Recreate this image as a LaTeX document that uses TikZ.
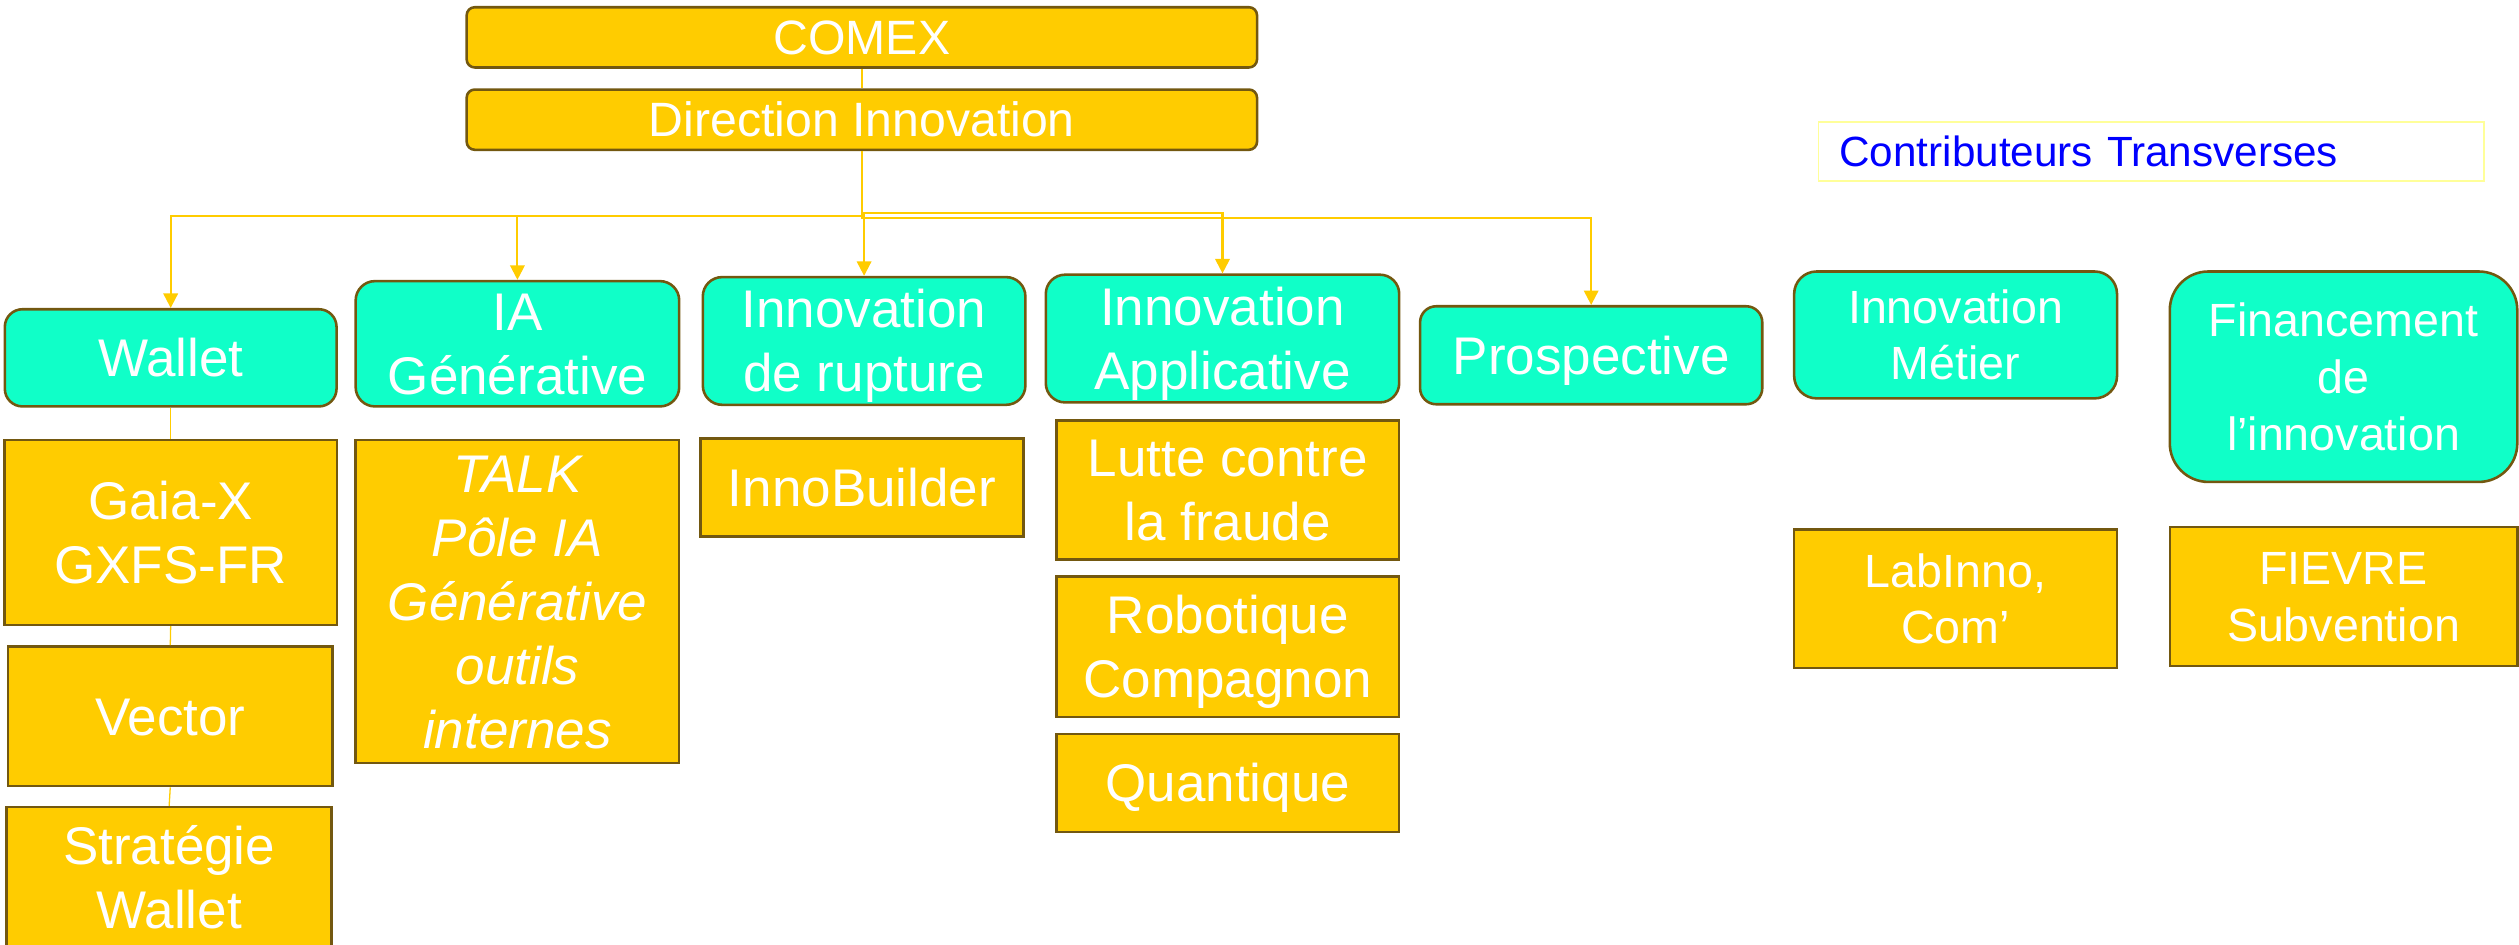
\documentclass[tikz,border=0pt]{standalone}
\usepackage{fontspec}
\setmainfont{Liberation Sans}
\usetikzlibrary{arrows.meta}
\definecolor{gold}{RGB}{255,204,0}
\definecolor{turq}{RGB}{16,255,200}
\definecolor{brd}{RGB}{115,88,16}
\definecolor{pale}{RGB}{255,255,153}
\definecolor{tblue}{RGB}{0,0,255}
\newcommand\Lr[1]{\raisebox{0pt}[0.716em][0pt]{#1}}
\newcommand\fsTop{\fontsize{30}{36}\selectfont}
\newcommand\fsMid{\fontsize{33}{39.8}\selectfont}
\newcommand\fsSide{\fontsize{29}{35.3}\selectfont}
\newcommand\fsNote{\fontsize{26.3}{31.5}\selectfont}
\tikzset{
  base/.style={draw=brd, line width=1.6pt, text=white, align=center, inner sep=0pt},
  wh/.style 2 args={minimum width=#1pt, minimum height=#2pt},
  topbox/.style={base, fill=gold, rounded corners=5pt, font=\fsTop},
  cat/.style={base, fill=turq, rounded corners=11pt, font=\fsMid},
  item/.style={base, fill=gold, font=\fsMid},
  conn/.style={draw=gold, line width=1.3pt, -{Triangle[length=9pt,width=9pt]}},
  link/.style={draw=gold, line width=0.8pt},
}
\begin{document}
\begin{tikzpicture}[x=1pt,y=-1pt]
\useasboundingbox (0,0) rectangle (1568.08,588.26);

% top
\node[topbox, wh={492}{37.5}] (comex) at (536.5,23.25) {\Lr{COMEX}};
\node[topbox, wh={492}{37.5}] (dir) at (536.5,74.5) {\Lr{Direction Innovation}};

% categories
\node[cat, wh={206.5}{60.5}] (wallet) at (106.25,222.75) {\Lr{Wallet}};
\node[cat, wh={201.4}{78}, rounded corners=12pt] (ia) at (322.1,214) {\Lr{IA}\\\Lr{Générative}};
\node[cat, wh={200.8}{79.5}, rounded corners=12pt] (rupt) at (537.9,212.25) {\Lr{Innovation}\\\Lr{de rupture}};
\node[cat, wh={220}{79.5}, rounded corners=12pt] (appl) at (761,210.75) {\Lr{Innovation}\\\Lr{Applicative}};
\node[cat, wh={213}{61}, rounded corners=10pt] (prosp) at (990.5,221.15) {\Lr{Prospective}};
\node[cat, wh={201}{79}, rounded corners=14pt, font=\fsSide] (metier) at (1217.35,208.5) {\Lr{Innovation}\\\Lr{Métier}};
\node[cat, wh={216.3}{131}, rounded corners=24pt, font=\fsSide] (finan) at (1458.85,234.5) {\Lr{Financement}\\\Lr{de}\\\Lr{l’innovation}};

% transverse label
\node[draw=pale, line width=1pt, text=tblue, font=\fsNote, anchor=west, inner xsep=13.1pt, inner ysep=0pt,
      text width=388.1pt, align=left, minimum height=36.5pt] (contrib) at (1131.4,94.25) {\Lr{Contributeurs Transverses}};

% items
\node[item, wh={206.9}{115}] (gaia) at (106.25,331.5) {\Lr{Gaia-X}\\\Lr{GXFS-FR}};
\node[item, wh={202}{86.9}] (vector) at (106,445.85) {\Lr{Vector}};
\node[item, wh={202.2}{88}] (strat) at (105.3,546.4) {\Lr{Stratégie}\\\Lr{Wallet}};
\node[item, wh={201.4}{201.1}, font=\fsMid\itshape] (talk) at (322.1,374.45) {\Lr{TALK}\\\Lr{Pôle IA}\\\Lr{Générative}\\\Lr{outils}\\\Lr{internes}};
\node[item, wh={201.1}{61}] (innob) at (536.55,303.5) {\Lr{InnoBuilder}};
\node[item, wh={213.5}{86.6}] (lutte) at (764.25,305) {\Lr{Lutte contre}\\\Lr{la fraude}};
\node[item, wh={213.5}{87.3}] (robot) at (764.25,402.65) {\Lr{Robotique}\\\Lr{Compagnon}};
\node[item, wh={213.5}{60.8}] (quant) at (764.25,487.4) {\Lr{Quantique}};
\node[item, wh={201.1}{86.5}, font=\fsSide] (labinno) at (1217.35,372.7) {\Lr{LabInno,}\\\Lr{Com’}};
\node[item, wh={216.3}{86.5}, font=\fsSide] (fievre) at (1458.85,371.2) {\Lr{FIEVRE}\\\Lr{Subvention}};

% connectors
\draw[link] (comex.south) -- (dir.north);
\draw[conn] (dir.south) -- ++(0,40.6) -| (wallet.north);
\draw[conn] (dir.south) -- ++(0,40.6) -| (ia.north);
\draw[conn] (dir.south) -- ++(0,38.5) -| (rupt.north);
\draw[conn] (dir.south) -- ++(0,38.5) -| (appl.north);
\draw[conn] (dir.south) -- ++(0,41.7) -| (prosp.north);
\draw[link] (wallet.south) -- (gaia.north);
\draw[link] (gaia.south) -- (vector.north);
\draw[link] (vector.south) -- (strat.north);
\end{tikzpicture}
\end{document}
